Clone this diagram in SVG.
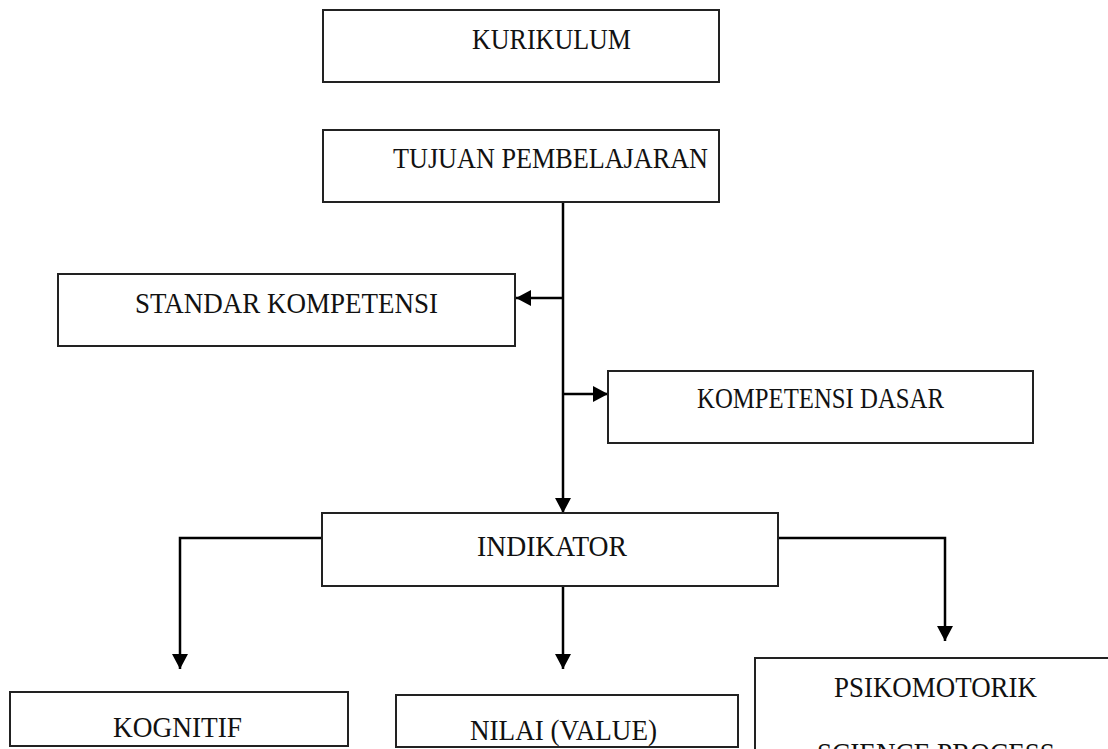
<svg xmlns="http://www.w3.org/2000/svg" width="1108" height="749" viewBox="0 0 1108 749">
  <style>
    .box { fill: #ffffff; stroke: #222222; stroke-width: 2; }
    .lbl { font-family: "Liberation Serif", "Times New Roman", serif; font-size: 30px; fill: #111111; }
    .wire { fill: none; stroke: #000000; stroke-width: 2.5; }
  </style>
  <defs>
    <marker id="arrow" markerWidth="15" markerHeight="16" refX="15" refY="8" orient="auto" markerUnits="userSpaceOnUse">
      <path d="M0,0 L15,8 L0,16 Z" fill="#000000"/>
    </marker>
  </defs>
  <rect width="1108" height="749" fill="#ffffff"/>

  <!-- flow lines between the boxes -->
  <g id="connectors">
    <path class="wire" d="M563,202 L563,298"/>
    <path class="wire" d="M563,298 L516,298" marker-end="url(#arrow)"/>
    <path class="wire" d="M563,298 L563,394"/>
    <path class="wire" d="M563,394 L608,394" marker-end="url(#arrow)"/>
    <path class="wire" d="M563,394 L563,513" marker-end="url(#arrow)"/>
    <path class="wire" d="M322,538 L180,538 L180,669" marker-end="url(#arrow)"/>
    <path class="wire" d="M563,586 L563,669" marker-end="url(#arrow)"/>
    <path class="wire" d="M778,538 L945,538 L945,641" marker-end="url(#arrow)"/>
  </g>

  <g id="kurikulum">
    <rect class="box" x="323" y="10" width="396" height="72"/>
    <text class="lbl" x="472" y="49" textLength="159" lengthAdjust="spacingAndGlyphs">KURIKULUM</text>
  </g>
  <g id="tujuan-pembelajaran">
    <rect class="box" x="323" y="130" width="396" height="72"/>
    <text class="lbl" x="393" y="168" textLength="315" lengthAdjust="spacingAndGlyphs">TUJUAN PEMBELAJARAN</text>
  </g>
  <g id="standar-kompetensi">
    <rect class="box" x="58" y="274" width="457" height="72"/>
    <text class="lbl" x="135" y="313" textLength="303" lengthAdjust="spacingAndGlyphs">STANDAR KOMPETENSI</text>
  </g>
  <g id="kompetensi-dasar">
    <rect class="box" x="608" y="371" width="425" height="72"/>
    <text class="lbl" x="697" y="408" textLength="247" lengthAdjust="spacingAndGlyphs">KOMPETENSI DASAR</text>
  </g>
  <g id="indikator">
    <rect class="box" x="322" y="513" width="456" height="73"/>
    <text class="lbl" x="477" y="556" textLength="150" lengthAdjust="spacingAndGlyphs">INDIKATOR</text>
  </g>
  <g id="kognitif">
    <rect class="box" x="10" y="692" width="338" height="54"/>
    <text class="lbl" x="113" y="737" textLength="129" lengthAdjust="spacingAndGlyphs">KOGNITIF</text>
  </g>
  <g id="nilai">
    <rect class="box" x="396" y="695" width="342" height="52"/>
    <text class="lbl" x="470" y="740" textLength="187" lengthAdjust="spacingAndGlyphs">NILAI (VALUE)</text>
  </g>
  <g id="psikomotorik">
    <rect class="box" x="755" y="658" width="360" height="100"/>
    <text class="lbl" x="834" y="697" textLength="203" lengthAdjust="spacingAndGlyphs">PSIKOMOTORIK</text>
    <text class="lbl" x="817" y="763" textLength="238" lengthAdjust="spacingAndGlyphs">SCIENCE PROCESS</text>
  </g>
</svg>
